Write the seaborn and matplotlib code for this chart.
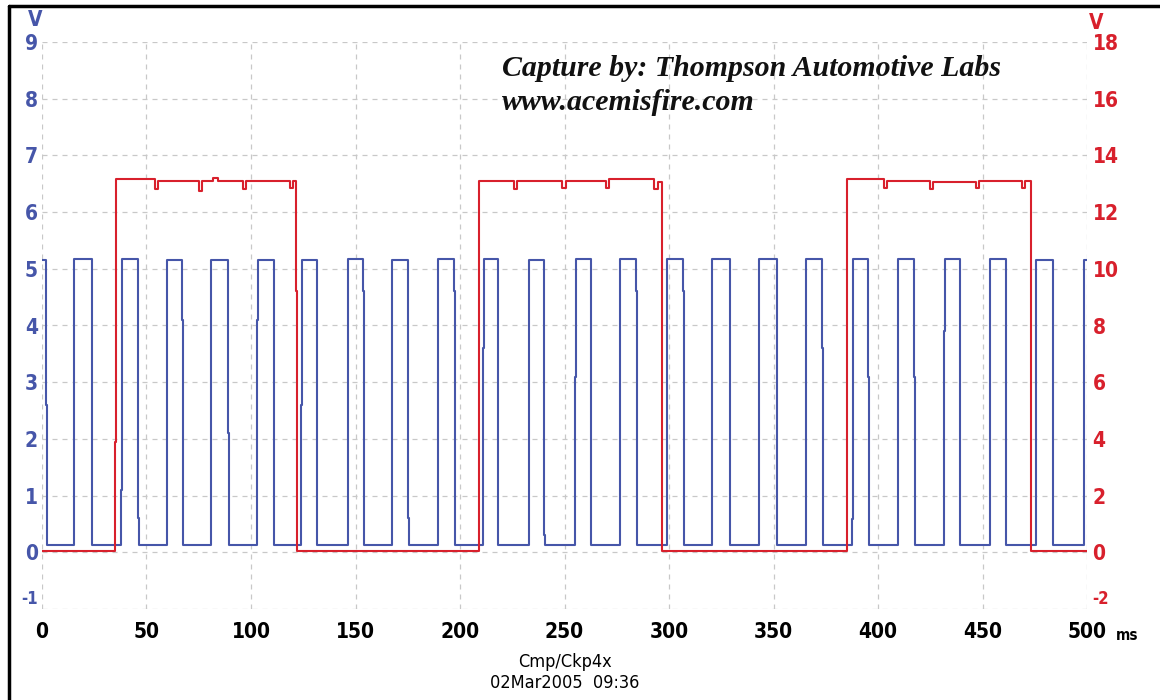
import numpy as np
import pandas as pd
import matplotlib
matplotlib.use("Agg")
import matplotlib.pyplot as plt
import seaborn as sns
from matplotlib.lines import Line2D

# Channel A (Ckp, left axis, V): transition times (ms) and level after each transition
blue_t = [0, 2.0, 2.6, 15.3, 24.1, 37.8, 38.4, 45.8, 46.3, 59.7, 67.0, 67.5,
          80.9, 88.8, 89.3, 103.0, 103.5, 111.0, 123.9, 124.4, 131.7, 146.3,
          153.8, 154.3, 167.3, 175.0, 175.5, 189.3, 197.3, 197.8, 211.2, 211.7,
          218.3, 233.0, 240.4, 240.9, 255.0, 255.5, 262.7, 276.6, 284.2, 284.7,
          298.9, 306.5, 307.0, 320.7, 329.2, 343.2, 351.5, 365.4, 373.1, 373.6,
          387.7, 388.2, 395.4, 395.9, 409.6, 417.1, 417.6, 431.7, 432.2, 439.2,
          453.6, 461.2, 475.4, 483.9, 498.7, 500]
blue_v = [5.15, 2.6, 0.12, 5.18, 0.12, 1.1, 5.18, 0.6, 0.12, 5.15, 4.1, 0.12,
          5.15, 2.1, 0.12, 4.1, 5.16, 0.12, 2.6, 5.16, 0.12, 5.18,
          4.6, 0.12, 5.16, 0.6, 0.12, 5.18, 4.6, 0.12, 3.6, 5.18,
          0.12, 5.16, 0.3, 0.12, 3.1, 5.17, 0.12, 5.18, 4.6, 0.12,
          5.17, 4.6, 0.12, 5.18, 0.12, 5.18, 0.12, 5.17, 3.6, 0.12,
          0.58, 5.17, 3.1, 0.12, 5.18, 3.1, 0.12, 3.9, 5.17, 0.12,
          5.17, 0.12, 5.16, 0.12, 5.16, 5.16]

# Channel B (Cmp, right axis, V): transition times (ms) and level after each transition
red_t = [0, 35.0, 35.5, 54.0, 55.5, 75.0, 76.5, 82.0, 84.0, 96.0, 97.5, 118.5,
         120.0, 121.6, 122.1, 209.1, 226.0, 227.5, 249.0, 250.5, 270.0, 271.5,
         293.0, 294.5, 296.5, 385.3, 403.0, 404.5, 425.0, 426.5, 447.0, 448.5,
         469.0, 470.5, 473.0, 500]
red_v = [0.05, 3.9, 13.15, 12.8, 13.1, 12.75, 13.1, 13.2, 13.1, 12.8, 13.1, 12.85,
         13.1, 9.2, 0.05, 13.1, 12.8, 13.1, 12.85, 13.1, 12.85, 13.15,
         12.8, 13.05, 0.05, 13.15, 12.85, 13.1, 12.8, 13.05, 12.85, 13.1,
         12.85, 13.1, 0.05, 0.05]

x_ticks = [0, 50, 100, 150, 200, 250, 300, 350, 400, 450, 500]
left_ticks = list(range(-1, 10))
right_ticks = list(range(-2, 19, 2))

blue = "#4656a9"
red = "#d8202c"

sns.set_theme(style="white")
plt.rcParams["font.family"] = ["DejaVu Sans"]
plt.rcParams["font.stretch"] = "condensed"
plt.rcParams["axes.unicode_minus"] = False

df_b = pd.DataFrame({"t": blue_t, "v": blue_v})
df_r = pd.DataFrame({"t": red_t, "v": red_v})

fig = plt.figure(figsize=(11.6, 7.0), dpi=100)
ax = fig.add_axes([0.0362, 0.13, 0.9009, 0.81])
ax2 = ax.twinx()

sns.lineplot(data=df_b, x="t", y="v", ax=ax, color=blue, lw=1.5,
             estimator=None, drawstyle="steps-post")
sns.lineplot(data=df_r, x="t", y="v", ax=ax2, color=red, lw=1.5,
             estimator=None, drawstyle="steps-post")

ax.set_xlim(0, 500)
ax.set_ylim(-1, 9)
ax2.set_ylim(-2, 18)
ax.set_xticks(x_ticks)
ax.set_yticks(left_ticks)
ax2.set_yticks(right_ticks)
# bottom labels are drawn separately, raised above their grid line
ax.set_yticklabels([""] + [str(v) for v in left_ticks[1:]])
ax2.set_yticklabels([""] + [str(v) for v in right_ticks[1:]])
ax.set_xlabel("")
ax.set_ylabel("")
ax2.set_ylabel("")

ax.grid(True, color="#c8c8c8", ls=(0, (4, 4)), lw=0.9)
for a in (ax, ax2):
    for s in a.spines.values():
        s.set_visible(False)

ax.tick_params(axis="x", length=0, pad=9, labelsize=15, labelcolor="black")
ax.tick_params(axis="y", length=0, pad=3, labelsize=15, labelcolor=blue)
ax2.tick_params(axis="y", length=0, pad=4, labelsize=15, labelcolor=red)
for lab in ax.get_xticklabels() + ax.get_yticklabels() + ax2.get_yticklabels():
    lab.set_fontweight("bold")

ax.text(-0.004, 0.002, str(left_ticks[0]), transform=ax.transAxes, color=blue,
        fontsize=12, fontweight="bold", ha="right", va="bottom")
ax.text(1.005, 0.002, str(right_ticks[0]), transform=ax.transAxes, color=red,
        fontsize=12, fontweight="bold", ha="left", va="bottom")

fig.text(0.030, 0.985, "V", color=blue, fontsize=15, fontweight="bold",
         ha="center", va="top")
fig.text(0.945, 0.982, "V", color=red, fontsize=15, fontweight="bold",
         ha="center", va="top")
fig.text(0.962, 0.092, "ms", color="black", fontsize=11, fontweight="bold",
         ha="left", va="center")
fig.text(0.487, 0.054, "Cmp/Ckp4x", color="black", fontsize=13,
         ha="center", va="center")
fig.text(0.487, 0.024, "02Mar2005  09:36", color="black", fontsize=13,
         ha="center", va="center")

ax.text(0.440, 0.954, "Capture by: Thompson Automotive Labs", transform=ax.transAxes,
        family="Liberation Serif", stretch="normal", style="italic",
        fontweight="bold", fontsize=21.5, color="#111111", ha="left", va="center")
ax.text(0.440, 0.894, "www.acemisfire.com", transform=ax.transAxes,
        family="Liberation Serif", stretch="normal", style="italic",
        fontweight="bold", fontsize=21.5, color="#111111", ha="left", va="center")

# black frame on top and left edges
fig.add_artist(Line2D([0.0075, 1.0], [0.991, 0.991], color="black", lw=2.5,
                      transform=fig.transFigure))
fig.add_artist(Line2D([0.0075, 0.0075], [0.0, 0.991], color="black", lw=2.5,
                      transform=fig.transFigure))

fig.savefig("out.png", dpi=100)
